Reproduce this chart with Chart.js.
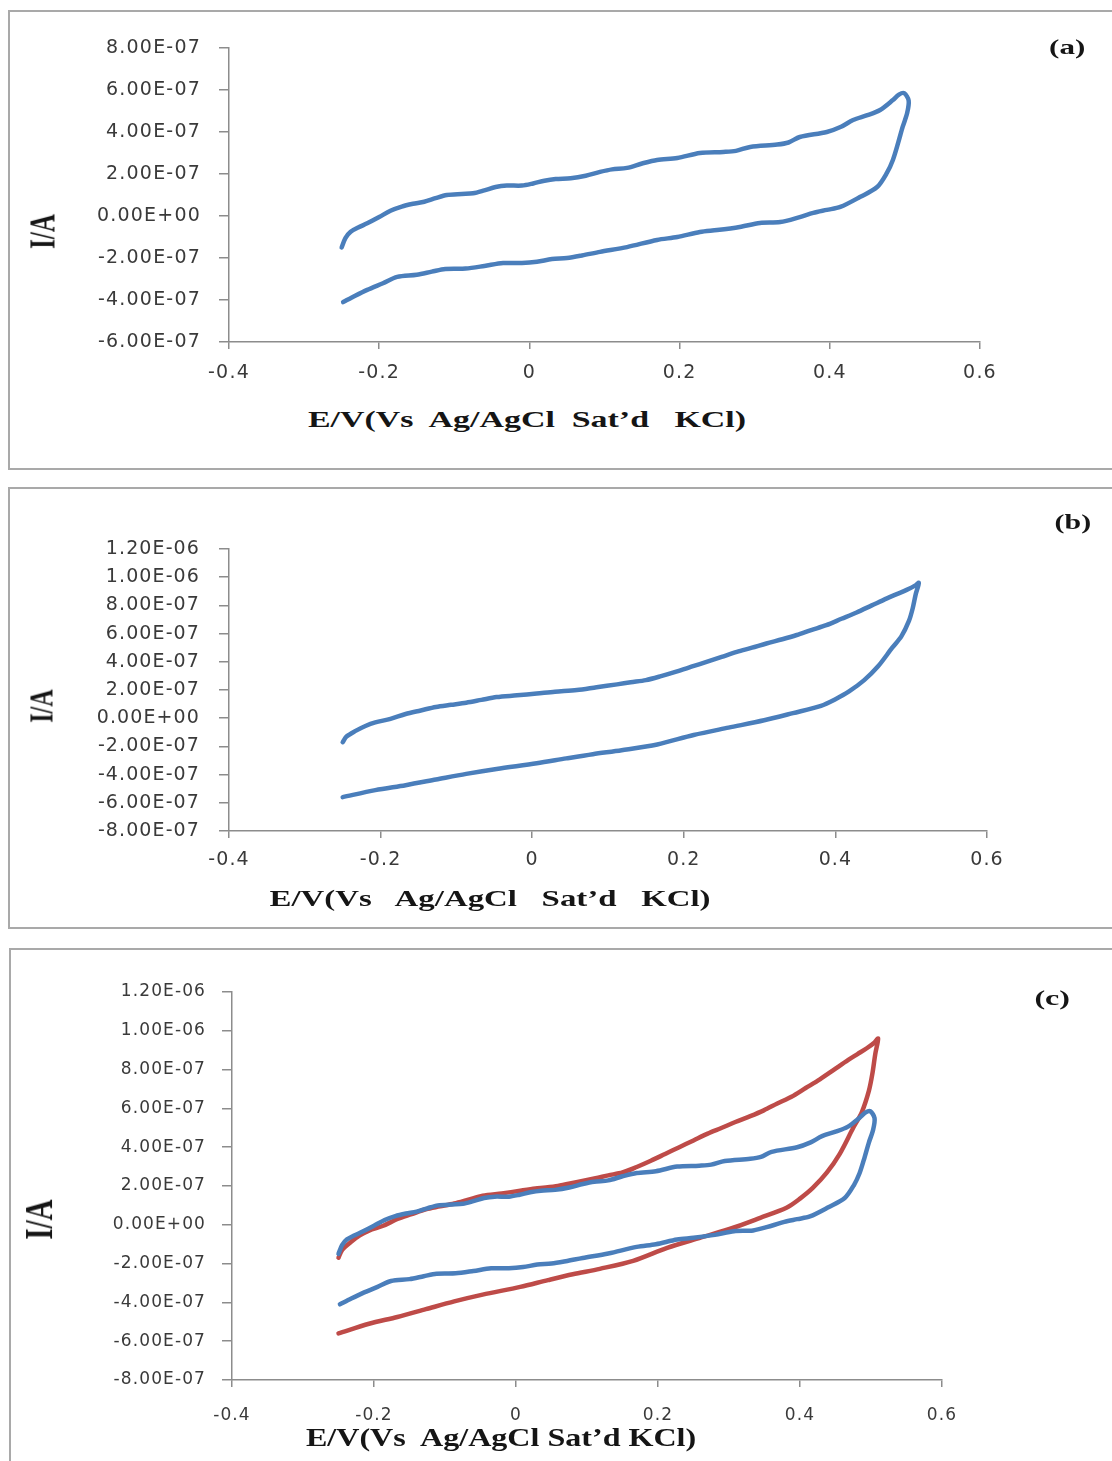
<!DOCTYPE html>
<html><head><meta charset="utf-8">
<script src="https://cdn.jsdelivr.net/npm/chart.js"></script>
<style>
html,body{margin:0;padding:0;background:#fff;width:1112px;height:1461px;overflow:hidden;position:relative;}
.box{position:absolute;box-sizing:border-box;border:2px solid #a9a9a9;}
canvas{position:absolute;left:0;}
.t{position:absolute;font-family:"Liberation Serif","Times New Roman",serif;font-weight:bold;color:#151515;white-space:pre;line-height:1;transform-origin:center center;}
</style></head><body>
<div class="box" style="left:8px;top:10px;width:1120px;height:460px"></div>
<div class="box" style="left:8px;top:487px;width:1120px;height:442px"></div>
<div class="box" style="left:9px;top:948px;width:1120px;height:540px"></div>
<canvas id="ca" width="1112" height="400" style="top:0px"></canvas>
<canvas id="cb" width="1112" height="420" style="top:480px"></canvas>
<canvas id="cc" width="1112" height="521" style="top:940px"></canvas>

<div class="t" data-cx="527" data-cy="419" data-w="438" style="font-size:24px">E/V(Vs  Ag/AgCl  Sat’d   KCl)</div>
<div class="t" data-cx="490" data-cy="898" data-w="441" style="font-size:24px">E/V(Vs   Ag/AgCl   Sat’d   KCl)</div>
<div class="t" data-cx="501" data-cy="1437" data-w="390" style="font-size:25px">E/V(Vs  Ag/AgCl Sat’d KCl)</div>
<div class="t" data-cx="42" data-cy="231" data-rs="1.4" style="font-size:25px">I/A</div>
<div class="t" data-cx="41" data-cy="706" data-rs="1.4" style="font-size:24px">I/A</div>
<div class="t" data-cx="39" data-cy="1219" data-rs="1.4" style="font-size:29px">I/A</div>
<div class="t" data-cx="1067" data-cy="47" data-w="37" style="font-size:21px">(a)</div>
<div class="t" data-cx="1073" data-cy="522" data-w="37" style="font-size:21px">(b)</div>
<div class="t" data-cx="1052" data-cy="998" data-w="35" style="font-size:22px">(c)</div>

<script>
// ---- DATA ----
// Electrode 1 (blue) cyclic voltammogram: potential (V) and current (A), forward then reverse scan
const bluePotential = [
  -0.250,-0.245,-0.238,-0.228,-0.216,-0.200,-0.185,-0.170,-0.155,-0.140,-0.125,-0.110,-0.090,-0.075,-0.060,-0.045,-0.030,-0.010,
  0.005,0.020,0.035,0.055,0.075,0.094,0.110,0.130,0.150,0.170,0.197,0.227,0.258,0.275,0.294,0.330,0.345,0.360,0.396,0.415,0.431,
  0.450,0.467,0.484,0.492,0.499,0.505,
  0.503,0.497,0.491,0.484,0.476,0.463,0.440,0.414,0.396,0.378,0.360,0.334,0.307,0.280,0.250,0.227,0.197,0.170,0.130,0.094,0.070,
  0.050,0.030,0.010,-0.010,-0.035,-0.060,-0.085,-0.112,-0.130,-0.150,-0.176,-0.195,-0.216,-0.232,-0.248
];
const blueCurrent = [
  -1.50e-7,-1.05e-7,-0.75e-7,-0.55e-7,-0.35e-7,-0.05e-7,0.25e-7,0.45e-7,0.58e-7,0.68e-7,0.85e-7,1.00e-7,1.05e-7,1.08e-7,1.22e-7,1.38e-7,1.45e-7,1.45e-7,
  1.55e-7,1.68e-7,1.76e-7,1.80e-7,1.92e-7,2.10e-7,2.22e-7,2.29e-7,2.50e-7,2.67e-7,2.76e-7,3.00e-7,3.05e-7,3.10e-7,3.29e-7,3.40e-7,3.50e-7,3.76e-7,4.00e-7,4.25e-7,4.57e-7,
  4.80e-7,5.05e-7,5.52e-7,5.78e-7,5.85e-7,5.50e-7,
  4.90e-7,4.24e-7,3.48e-7,2.67e-7,2.05e-7,1.38e-7,0.90e-7,0.43e-7,0.29e-7,0.15e-7,-0.05e-7,-0.29e-7,-0.33e-7,-0.52e-7,-0.67e-7,-0.76e-7,-1.00e-7,-1.14e-7,-1.48e-7,-1.71e-7,-1.88e-7,
  -2.00e-7,-2.05e-7,-2.18e-7,-2.24e-7,-2.24e-7,-2.38e-7,-2.50e-7,-2.52e-7,-2.65e-7,-2.80e-7,-2.90e-7,-3.20e-7,-3.52e-7,-3.80e-7,-4.10e-7
];
// Electrode 2 (red) cyclic voltammogram
const redPotential = [
  -0.250,-0.245,-0.233,-0.220,-0.207,-0.187,-0.167,-0.147,-0.127,-0.107,-0.087,-0.067,-0.047,-0.020,0.006,0.030,0.059,0.085,0.112,
  0.130,0.150,0.170,0.190,0.210,0.230,0.250,0.270,0.290,0.309,0.330,0.349,0.368,0.388,0.408,0.428,0.448,0.468,0.481,0.494,0.505,0.510,
  0.506,0.502,0.497,0.487,0.475,0.456,0.438,0.418,0.400,0.381,0.344,0.306,0.259,0.213,0.165,0.118,0.080,0.045,0.006,-0.047,-0.087,
  -0.127,-0.167,-0.207,-0.250
];
const redCurrent = [
  -1.70e-7,-1.30e-7,-0.90e-7,-0.55e-7,-0.30e-7,-0.05e-7,0.30e-7,0.55e-7,0.80e-7,0.95e-7,1.10e-7,1.30e-7,1.50e-7,1.62e-7,1.75e-7,1.88e-7,2.00e-7,2.20e-7,2.40e-7,
  2.55e-7,2.70e-7,2.98e-7,3.30e-7,3.65e-7,4.00e-7,4.35e-7,4.70e-7,5.00e-7,5.30e-7,5.60e-7,5.90e-7,6.25e-7,6.60e-7,7.05e-7,7.50e-7,8.00e-7,8.50e-7,8.80e-7,9.10e-7,9.40e-7,9.60e-7,
  8.80e-7,7.80e-7,6.90e-7,5.80e-7,5.00e-7,3.66e-7,2.70e-7,1.90e-7,1.35e-7,0.88e-7,0.36e-7,-0.15e-7,-0.67e-7,-1.19e-7,-1.86e-7,-2.27e-7,-2.55e-7,-2.85e-7,-3.20e-7,-3.60e-7,-3.95e-7,
  -4.35e-7,-4.75e-7,-5.10e-7,-5.60e-7
];
// Tick labels
const xTicks = [-0.4,-0.2,0,0.2,0.4,0.6];
const yTicksA = [-6e-7,-4e-7,-2e-7,0,2e-7,4e-7,6e-7,8e-7];
const yTicksB = [-8e-7,-6e-7,-4e-7,-2e-7,0,2e-7,4e-7,6e-7,8e-7,1e-6,1.2e-6];
const yTicksC = [-8e-7,-6e-7,-4e-7,-2e-7,0,2e-7,4e-7,6e-7,8e-7,1e-6,1.2e-6];

// ---- helpers ----
function pts(xs, ys){ return xs.map((x,i)=>({x:x, y:ys[i]})); }
function fmtY(v){
  const s = Number(v).toExponential(2); // e.g. 8.00e-7
  const m = s.split('e');
  const sign = m[1][0] === '-' ? '-' : '+';
  let e = m[1].replace(/^[+-]/,'');
  if (e.length < 2) e = '0' + e;
  return m[0] + 'E' + sign + e;
}
function fmtX(v){ const n = Number(Number(v).toFixed(1)); return (n === 0 ? 0 : n).toString(); }

const spacingPlugin = { id:'spacing', beforeDraw(chart, args, opts){ chart.ctx.letterSpacing = opts.value || '0px'; } };

const BLUE = '#4a7ebb', RED = '#be4b48', AXIS = '#8c8c8c', TXT = '#3a3a3a';

function makeChart(id, datasets, c){
  const cv = document.getElementById(id);
  const W = cv.width, H = cv.height;
  return new Chart(cv, {
    type:'scatter',
    data:{ datasets },
    options:{
      responsive:false, animation:false, devicePixelRatio:1,
      layout:{ padding:{ left:0, top:c.top, right:W - c.right, bottom:0 } },
      plugins:{ legend:{display:false}, tooltip:{enabled:false}, spacing:{ value:c.ls } },
      elements:{ point:{ radius:0 }, line:{ tension:0.3, borderCapStyle:'round', borderJoinStyle:'round' } },
      scales:{
        x:{
          type:'linear', min:c.xTicks[0], max:c.xTicks[c.xTicks.length-1],
          afterBuildTicks: s => { s.ticks = c.xTicks.map(v => ({value:v})); },
          afterFit: s => { s.height = H - c.bottom; },
          ticks:{ callback: v => fmtX(v), font:{ family:'DejaVu Sans', size:c.fs }, color:TXT, padding:c.xpad, maxRotation:0, autoSkip:false },
          grid:{ drawOnChartArea:false, drawTicks:true, tickLength:7, color:AXIS, lineWidth:1.5 },
          border:{ color:AXIS, width:1.5 }
        },
        y:{
          type:'linear', min:c.yTicks[0], max:c.yTicks[c.yTicks.length-1],
          afterBuildTicks: s => { s.ticks = c.yTicks.map(v => ({value:v})); },
          afterFit: s => { s.width = c.left; },
          ticks:{ callback: v => fmtY(v), font:{ family:'DejaVu Sans', size:c.fs }, color:TXT, padding:c.ypad, autoSkip:false },
          grid:{ drawOnChartArea:false, drawTicks:true, tickLength:10, color:AXIS, lineWidth:1.5 },
          border:{ color:AXIS, width:1.5 }
        }
      }
    },
    plugins:[spacingPlugin]
  });
}

function ds(xs, ys, color, w){
  return { data:pts(xs, ys), showLine:true, borderColor:color, backgroundColor:color, borderWidth:w, pointRadius:0, fill:false };
}

makeChart('ca', [ds(bluePotential, blueCurrent, BLUE, 4.5)],
  { left:229, right:980, top:48, bottom:342, xTicks, yTicks:yTicksA, fs:19, ls:'1.2px', xpad:13, ypad:18 });
makeChart('cb', [ds(redPotential, redCurrent, BLUE, 4.5)],
  { left:229, right:987, top:69, bottom:351, xTicks, yTicks:yTicksB, fs:19, ls:'1.1px', xpad:11, ypad:19 });
makeChart('cc', [ds(bluePotential, blueCurrent, BLUE, 4.5), ds(redPotential, redCurrent, RED, 4.5)],
  { left:232, right:942, top:52, bottom:440, xTicks, yTicks:yTicksC, fs:17, ls:'1.1px', xpad:18, ypad:16 });

// ---- HTML text placement ----
document.querySelectorAll('.t').forEach(el => {
  const w = el.offsetWidth, h = el.offsetHeight;
  const cx = +el.dataset.cx, cy = +el.dataset.cy;
  el.style.left = (cx - w/2) + 'px';
  el.style.top = (cy - h/2) + 'px';
  if (el.dataset.rs) {
    el.style.transform = 'rotate(-90deg) scaleY(' + el.dataset.rs + ')';
  } else {
    el.style.transform = 'scaleX(' + (+el.dataset.w / w) + ')';
  }
});
</script>
</body></html>
